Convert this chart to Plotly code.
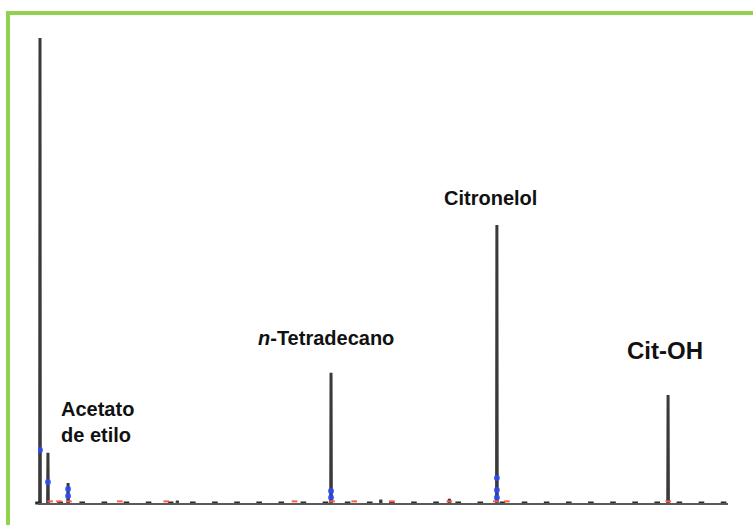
import plotly.graph_objects as go

# Peak data (retention position in tick units, relative intensity)
peak_rt = [0.09, 0.45, 1.36, 13.25, 20.75, 28.49]
peak_height = [100.0, 10.8, 4.3, 28.0, 59.8, 23.2]

# small baseline bumps
bump_rt = [6.3, 15.5, 18.6]
bump_height = [0.5, 0.7, 0.9]

# blue detector markers near peak bases
blue_rt = [0.09, 0.45, 1.36, 1.36, 13.25, 13.25, 20.75, 20.75, 20.75]
blue_y = [11.4, 4.5, 3.0, 1.5, 2.6, 1.2, 5.4, 2.8, 1.2]

# red integration marks on the baseline
red_rt = [0.55, 0.95, 1.4, 3.7, 5.8, 11.6, 13.3, 14.3, 16.0, 18.6, 20.7, 21.2, 28.5]
red_y = [0.35] * len(red_rt)

tick_pos = list(range(0, 32))

labels = ["Acetato<br>de etilo", "<i>n</i>-Tetradecano", "Citronelol", "Cit-OH"]
label_x = [2.67, 13.0, 20.48, 28.35]
label_y = [17.4, 35.5, 65.6, 32.9]
label_size = [20, 20, 20, 24]

x_min, x_max = 0.0, 31.2

fig = go.Figure()

# build peak polylines from the data
xs, ys = [], []
w = 0.015
for rt, h in zip(peak_rt + bump_rt, peak_height + bump_height):
    xs += [rt - w, rt, rt + w, None]
    ys += [0, h, 0, None]
fig.add_trace(go.Scatter(x=xs, y=ys, mode="lines",
                         line=dict(color="#3a3a3a", width=3),
                         hoverinfo="skip", showlegend=False))

# tick marks on the baseline
fig.add_trace(go.Scatter(x=tick_pos, y=[0] * len(tick_pos), mode="markers",
                         marker=dict(symbol="line-ew", size=4, color="#2a2a2a",
                                     line=dict(color="#2a2a2a", width=3)),
                         cliponaxis=False, hoverinfo="skip", showlegend=False))

fig.add_trace(go.Scatter(x=blue_rt, y=blue_y, mode="markers",
                         marker=dict(color="#2b4cff", size=6, opacity=0.85),
                         hoverinfo="skip", showlegend=False))
fig.add_trace(go.Scatter(x=red_rt, y=red_y, mode="markers",
                         marker=dict(color="#ff5a4a", size=4, symbol="line-ew",
                                     line=dict(color="#ff5a4a", width=2)),
                         cliponaxis=False, hoverinfo="skip", showlegend=False))

for t, lx, ly, s in zip(labels, label_x, label_y, label_size):
    fig.add_annotation(x=lx, y=ly, text="<b>" + t + "</b>", showarrow=False,
                       xanchor="center", yanchor="middle", align="left",
                       font=dict(family="Liberation Sans, Arial", size=s, color="#111111"))

green = "#92D050"
# green frame (left and top sides visible)
fig.add_shape(type="line", xref="paper", yref="paper",
              x0=-0.0435, x1=-0.0435, y0=-0.1, y1=1.058,
              line=dict(color=green, width=4))
fig.add_shape(type="line", xref="paper", yref="paper",
              x0=-0.0464, x1=1.1, y0=1.0538, y1=1.0538,
              line=dict(color=green, width=4))

fig.update_layout(
    width=753, height=525,
    margin=dict(l=38, r=25, t=38, b=22),
    paper_bgcolor="white", plot_bgcolor="white",
    xaxis=dict(range=[x_min, x_max], showticklabels=False, ticks="",
               showgrid=False, zeroline=False, showline=True,
               linecolor="#5a5a5a", linewidth=2, fixedrange=True),
    yaxis=dict(range=[0, 100], showticklabels=False, showgrid=False,
               zeroline=False, showline=False, ticks="", fixedrange=True),
)

fig.write_html("out.html", config={"displayModeBar": False},
               post_script="document.body.style.margin='0';")
